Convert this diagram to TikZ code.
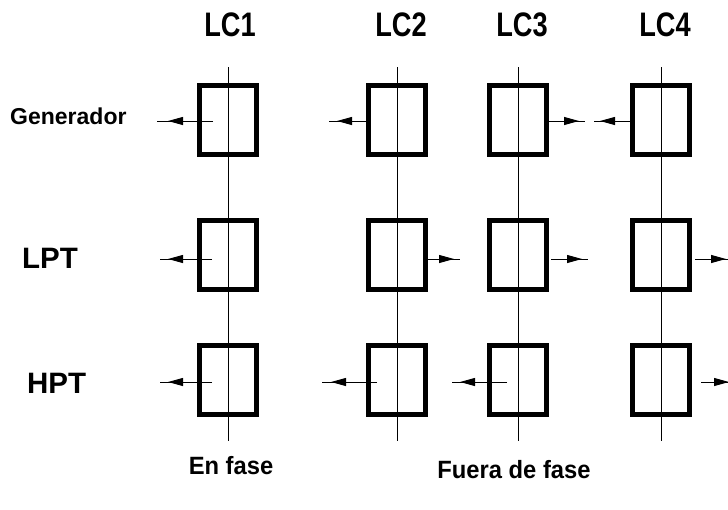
\documentclass[tikz,border=0pt]{standalone}
\usepackage{fontspec}
\setmainfont{Liberation Sans}
\usetikzlibrary{arrows.meta}
\begin{document}
\begin{tikzpicture}[x=1pt,y=-1pt,
  cbox/.style={draw,line width=5pt,minimum width=57pt,minimum height=69pt,inner sep=0pt},
  axisline/.style={line width=1pt},
  wire/.style={line width=1pt},
  head/.style={-{Triangle[length=15pt,width=8pt]},line width=1pt},
  lclabel/.style={font=\bfseries\fontsize{34}{34}\selectfont,inner sep=0pt,xscale=0.8},
  rowlabel/.style={font=\bfseries\fontsize{29.5}{30}\selectfont,inner sep=0pt,anchor=west},
  genlabel/.style={font=\bfseries\fontsize{23}{24}\selectfont,inner sep=0pt,anchor=west},
  botlabel/.style={font=\bfseries\fontsize{25}{25}\selectfont,inner sep=0pt,xscale=0.95}]
\useasboundingbox (0,0) rectangle (728,509);
\clip (0,0) rectangle (728,509);
% vertical axes
\coordinate (t1) at (228.5,67); \coordinate (u1) at (228.5,441);
\coordinate (t2) at (397,67);   \coordinate (u2) at (397,441);
\coordinate (t3) at (518,67);   \coordinate (u3) at (518,441);
\coordinate (t4) at (661,67);   \coordinate (u4) at (661,441);
% boxes
\foreach \c/\x in {1/228,2/396.5,3/517.5,4/660.5}{
  \node[cbox] (b\c1) at (\x,120) {};
  \node[cbox] (b\c2) at (\x,255) {};
  \node[cbox] (b\c3) at (\x,379.5) {};
}
\foreach \c in {1,2,3,4}{\draw[axisline] (t\c) -- (u\c);}
% labels
\node[lclabel] (lc1) at (230,25) {LC1};
\node[lclabel] (lc2) at (401,25) {LC2};
\node[lclabel] (lc3) at (522,25) {LC3};
\node[lclabel] (lc4) at (665,25) {LC4};
\node[genlabel] (gen) at (10,116) {Generador};
\node[rowlabel] (lpt) at (22,258) {LPT};
\node[rowlabel] (hpt) at (27,383) {HPT};
\node[botlabel] (en) at (231,466) {En fase};
\node[botlabel] (fu) at (514,470) {Fuera de fase};
% ---- row 1 (Generador), y = 121
\coordinate (s11) at (213,121); \coordinate (e11) at (157,121);
\coordinate (h11a) at (183,121); \coordinate (h11b) at (168,121);
\coordinate (s21) at (b21.west |- 0,121); \coordinate (e21) at (329,121);
\coordinate (h21a) at (353,121); \coordinate (h21b) at (337,121);
\coordinate (s31) at (b31.east |- 0,121); \coordinate (e31) at (585,121);
\coordinate (h31a) at (562,121); \coordinate (h31b) at (579,121);
\coordinate (s41) at (b41.west |- 0,121); \coordinate (e41) at (594,121);
\coordinate (h41a) at (616,121); \coordinate (h41b) at (600,121);
% ---- row 2 (LPT), y = 259
\coordinate (s12) at (212,259); \coordinate (e12) at (160,259);
\coordinate (h12a) at (183,259); \coordinate (h12b) at (168,259);
\coordinate (s22) at (b22.east |- 0,259); \coordinate (e22) at (460,259);
\coordinate (h22a) at (438,259); \coordinate (h22b) at (454,259);
\coordinate (s32) at (551,259); \coordinate (e32) at (588,259);
\coordinate (h32a) at (566,259); \coordinate (h32b) at (582,259);
\coordinate (s42) at (695,259); \coordinate (e42) at (740,259);
\coordinate (h42a) at (710,259); \coordinate (h42b) at (726,259);
% ---- row 3 (HPT), y = 382
\coordinate (s13) at (212,382); \coordinate (e13) at (160,382);
\coordinate (h13a) at (183,382); \coordinate (h13b) at (168,382);
\coordinate (s23) at (377,382); \coordinate (e23) at (322,382);
\coordinate (h23a) at (347,382); \coordinate (h23b) at (331,382);
\coordinate (s33) at (507,382); \coordinate (e33) at (452,382);
\coordinate (h33a) at (476,382); \coordinate (h33b) at (460,382);
\coordinate (s43) at (701,382); \coordinate (e43) at (740,382);
\coordinate (h43a) at (713,382); \coordinate (h43b) at (729,382);
\foreach \c in {1,2,3,4}{\foreach \r in {1,2,3}{
  \draw[wire] (s\c\r) -- (e\c\r);
  \draw[head] (h\c\r a) -- (h\c\r b);
}}
\end{tikzpicture}
\end{document}
